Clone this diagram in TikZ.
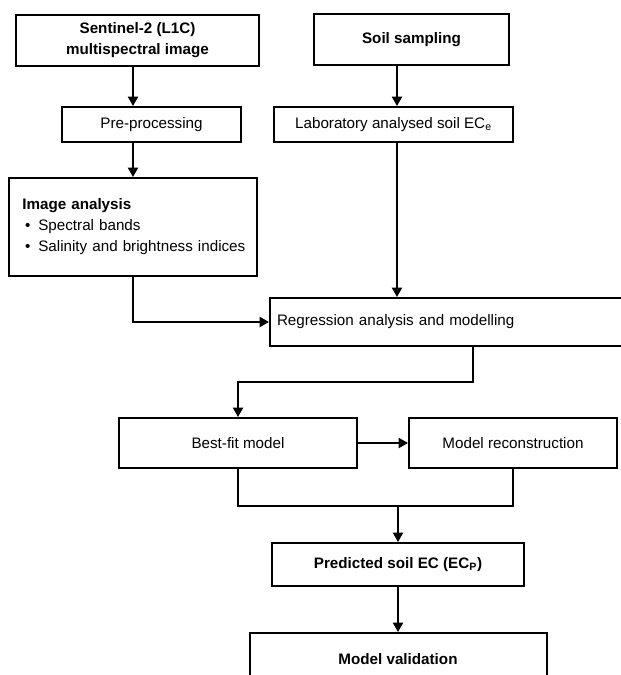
\documentclass[tikz,border=0pt]{standalone}
\usepackage{fontspec}
\setmainfont{Liberation Sans}
\usetikzlibrary{positioning}
\usetikzlibrary{arrows.meta}

\begin{document}
\begin{tikzpicture}[x=0.75pt, y=-0.75pt,
    font=\fontsize{11.4}{15.75}\selectfont,
    box/.style={draw, line width=1.5pt, inner sep=0pt, align=center},
    arr/.style={line width=1.5pt, -{Triangle[length=7pt, width=7.5pt]}},
    link/.style={line width=1.5pt}]
    \useasboundingbox (0,0) rectangle (621,675);

    \node[box,
          minimum width=182.25pt,
          minimum height=38.25pt] (sent) at (137.5,40.5)
        {\textbf{Sentinel-2 (L1C)}\\\textbf{multispectral image}};
    \node[box,
          minimum width=146.25pt,
          minimum height=38.25pt] (soil) at (411.5,39.5)
        {\textbf{Soil sampling}};
    \node[box,
          minimum width=134.25pt,
          minimum height=26.25pt] (pre) at (151.5,124.5) {Pre-processing};
    \node[box,
          minimum width=179.25pt,
          minimum height=26.25pt] (lab) at (393.5,124.5)
        {Laboratory analysed soil EC\textsubscript{e}};
    \node[box,
          minimum width=186pt,
          minimum height=73.5pt,
          text width=170pt,
          align=left] (img) at (133,227)
        {\hspace*{2pt}\textbf{Image analysis}\\%
         \makebox[14pt][l]{\hspace{4pt}\textbullet}Spectral bands\\%
         \makebox[14pt][l]{\hspace{4pt}\textbullet}Salinity and brightness indices};
    \node[box,
          minimum width=277.5pt,
          minimum height=36pt,
          text width=267pt,
          align=left] (reg) at (455,322)
        {Regression analysis and modelling};
    \node[box,
          minimum width=178.5pt,
          minimum height=37.5pt] (best) at (238,443) {Best-fit model};
    \node[box,
          right=37.5pt of best,
          minimum width=156pt,
          minimum height=37.5pt] (recon) {Model reconstruction};
    \node[box,
          minimum width=189pt,
          minimum height=32.25pt] (pred) at (398,564.5)
        {\textbf{Predicted soil EC (EC\textsubscript{P})}};
    \node[box,
          below=33.75pt of pred,
          minimum width=222.75pt,
          minimum height=39pt] (valid) {\textbf{Model validation}};

    \coordinate (col) at (397,0);
    \coordinate (split) at (473,382);
    \coordinate (join) at (398,506);

    \draw[arr] (sent.south -| img.north) -- (pre.north -| img.north);
    \draw[arr] (pre.south -| img.north) -- (img.north);
    \draw[arr] (soil.south -| col) -- (lab.north -| col);
    \draw[arr] (lab.south -| col) -- (reg.north -| col);
    \draw[arr] (img.south) |- (reg.west);
    \draw[arr] (split |- reg.south) -- (split) -| (best.north);
    \draw[arr] (best.east) -- (recon.west);
    \draw[link] (best.south) |- (join) -| (recon.south);
    \draw[arr] (join) -- (pred.north);
    \draw[arr] (pred.south) -- (valid.north);
\end{tikzpicture}
\end{document}
